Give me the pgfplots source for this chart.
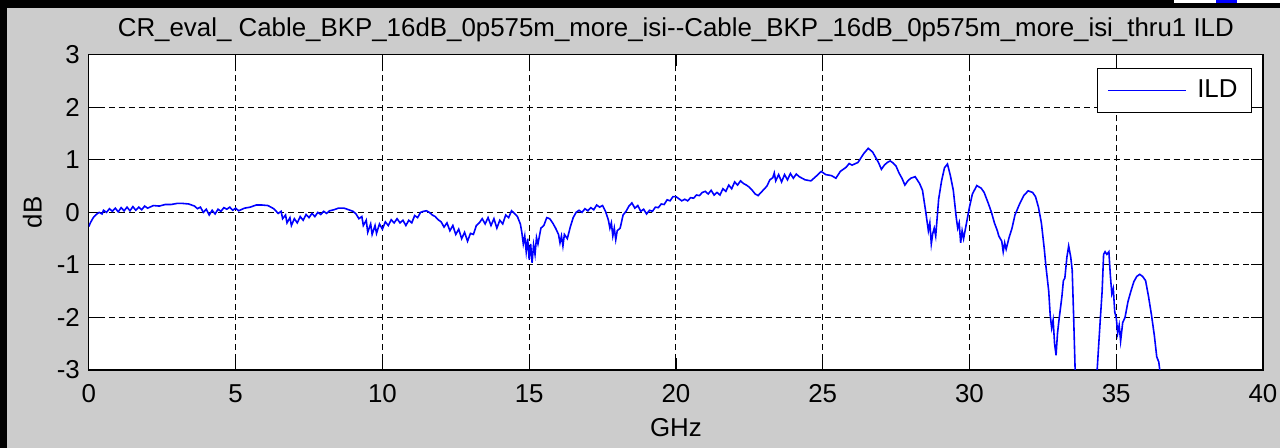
\documentclass[border=0pt]{standalone}
\usepackage{pgfplots}
\pgfplotsset{compat=1.18}
\usepackage{fontspec}
\setmainfont{Liberation Sans}
\definecolor{figgray}{RGB}{204,204,204}
\begin{document}
\fontsize{13pt}{15pt}\selectfont
\begin{tikzpicture}
\fill[figgray] (0,0) rectangle (643pt,225pt);
\fill[black] (0,221pt) rectangle (643pt,225pt);
\fill[black] (0,0) rectangle (3.5pt,225pt);
\fill[white] (590pt,223.5pt) rectangle (643pt,225pt);
\fill[blue] (611pt,223.5pt) rectangle (621.5pt,225pt);
\begin{axis}[
 at={(44.65pt,39.15pt)}, anchor=south west,
 scale only axis, width=589.9pt, height=158.3pt,
 xmin=0, xmax=40, ymin=-3, ymax=3,
 xtick={0,5,...,40}, ytick={-3,-2,...,3},
 grid=major,
 grid style={black, line width=0.5pt, dash pattern=on 3pt off 2pt},
 axis line style={line width=0.6pt},
 tick style={black, line width=0.6pt},
 major tick length=5.8pt,
 tick align=inside,
 axis background/.style={fill=white},
 /pgf/number format/assume math mode=true,
 ticklabel style={font=\fontsize{13pt}{15pt}\selectfont},
 xticklabel style={yshift=-3pt},
 every axis title shift=0pt,
 title={CR\_eval\_ Cable\_BKP\_16dB\_0p575m\_more\_isi-{}-Cable\_BKP\_16dB\_0p575m\_more\_isi\_thru1 ILD},
 title style={at={(0.5,1.0568)}, anchor=base, font=\fontsize{13pt}{15pt}\selectfont, inner sep=0pt, yshift=0pt},
 xlabel={GHz},
 xlabel style={at={(0.5,-0.2125)}, anchor=base, inner sep=0pt, font=\fontsize{13pt}{15pt}\selectfont},
 ylabel={dB},
 ylabel style={at={(-0.0403,0.5)}, anchor=base, inner sep=0pt, font=\fontsize{13pt}{15pt}\selectfont},
 legend style={at={(0.9907,0.958)}, anchor=north east, draw=black, line width=0.6pt, fill=white,
   inner xsep=5pt, inner ysep=3.5pt, font=\fontsize{13pt}{15pt}\selectfont,
   /tikz/every odd column/.append style={column sep=3.5pt}},
 legend image code/.code={\draw[#1, line width=0.8pt] (1.5pt,0pt) -- (40.5pt,0pt);},
]
\addplot[blue, line width=0.8pt] coordinates {
(0,-0.27)(0.05,-0.2)(0.15,-0.1)(0.25,-0.04)(0.35,0.0)
(0.45,-0.03)(0.5,0.04)(0.6,0.0)(0.7,0.07)(0.8,0.02)(0.9,0.08)(1.0,0.01)(1.1,0.09)(1.2,0.03)(1.3,0.1)(1.4,0.03)(1.5,0.11)(1.6,0.04)(1.7,0.1)(1.8,0.05)(1.9,0.12)(2.0,0.08)(2.2,0.13)(2.4,0.12)(2.6,0.15)(2.8,0.15)(3.0,0.17)(3.2,0.17)(3.4,0.16)(3.6,0.12)(3.7,0.07)(3.8,0.1)(3.9,0.0)(4.0,0.06)(4.1,-0.05)(4.2,0.04)(4.3,-0.03)(4.4,0.06)(4.5,0.02)(4.6,0.09)(4.7,0.06)(4.8,0.1)(4.9,0.04)(5.0,0.08)(5.1,0.03)(5.3,0.08)(5.5,0.1)(5.7,0.14)(5.9,0.14)(6.1,0.13)(6.3,0.07)(6.45,-0.02)(6.55,0.02)(6.6,-0.12)(6.7,-0.05)(6.75,-0.2)(6.85,-0.1)(6.9,-0.25)(7.0,-0.12)(7.1,-0.2)(7.2,-0.08)(7.3,-0.15)(7.4,-0.04)(7.5,-0.1)(7.6,-0.02)(7.7,-0.08)(7.8,0.0)(7.9,-0.04)(8.0,0.02)(8.1,-0.02)(8.2,0.03)(8.35,0.05)(8.5,0.08)(8.7,0.08)(8.85,0.05)(9.0,0.02)(9.1,-0.03)(9.2,-0.12)(9.3,-0.08)(9.35,-0.25)(9.45,-0.15)(9.5,-0.38)(9.6,-0.22)(9.65,-0.42)(9.75,-0.25)(9.8,-0.4)(9.9,-0.22)(10.0,-0.32)(10.1,-0.18)(10.2,-0.25)(10.3,-0.14)(10.4,-0.2)(10.5,-0.12)(10.6,-0.2)(10.7,-0.15)(10.8,-0.25)(10.9,-0.15)(11.0,-0.2)(11.1,-0.06)(11.2,-0.1)(11.3,0.0)(11.4,0.02)(11.5,0.03)(11.6,0.0)(11.7,-0.05)(11.8,-0.08)(11.9,-0.14)(12.0,-0.18)(12.1,-0.28)(12.2,-0.2)(12.3,-0.35)(12.4,-0.25)(12.5,-0.42)(12.6,-0.32)(12.7,-0.5)(12.8,-0.38)(12.9,-0.55)(13.0,-0.4)(13.1,-0.42)(13.2,-0.25)(13.3,-0.2)(13.4,-0.12)(13.5,-0.22)(13.6,-0.1)(13.7,-0.25)(13.8,-0.12)(13.9,-0.3)(14.0,-0.15)(14.1,-0.22)(14.2,-0.05)(14.3,-0.1)(14.4,0.03)(14.5,-0.02)(14.6,-0.08)(14.7,-0.22)(14.75,-0.38)(14.8,-0.6)(14.85,-0.45)(14.9,-0.75)(14.95,-0.5)(15.0,-0.9)(15.05,-0.6)(15.1,-0.96)(15.15,-0.62)(15.2,-0.8)(15.25,-0.48)(15.3,-0.6)(15.4,-0.3)(15.5,-0.25)(15.6,-0.1)(15.7,-0.12)(15.8,-0.2)(15.9,-0.3)(16.0,-0.42)(16.05,-0.58)(16.1,-0.45)(16.15,-0.64)(16.2,-0.42)(16.3,-0.5)(16.4,-0.28)(16.5,-0.1)(16.6,0.0)(16.7,0.04)(16.8,0.0)(16.9,0.07)(17.0,0.03)(17.1,0.09)(17.2,0.05)(17.3,0.14)(17.4,0.1)(17.5,0.13)(17.6,0.02)(17.7,-0.15)(17.75,-0.3)(17.8,-0.2)(17.85,-0.45)(17.9,-0.3)(17.95,-0.52)(18.0,-0.35)(18.1,-0.3)(18.2,-0.05)(18.3,0.02)(18.4,0.12)(18.5,0.18)(18.6,0.08)(18.7,0.13)(18.8,0.02)(18.9,0.06)(19.0,-0.03)(19.1,0.04)(19.2,0.02)(19.3,0.1)(19.4,0.09)(19.5,0.16)(19.6,0.15)(19.7,0.24)(19.8,0.22)(19.9,0.3)(20.0,0.3)(20.1,0.26)(20.2,0.22)(20.3,0.25)(20.4,0.22)(20.5,0.28)(20.6,0.27)(20.7,0.33)(20.8,0.32)(20.9,0.38)(21.0,0.4)(21.1,0.35)(21.2,0.42)(21.3,0.33)(21.4,0.38)(21.5,0.33)(21.6,0.45)(21.7,0.4)(21.8,0.52)(21.9,0.45)(22.0,0.58)(22.1,0.52)(22.2,0.6)(22.3,0.55)(22.4,0.52)(22.5,0.48)(22.6,0.42)(22.7,0.35)(22.8,0.32)(22.9,0.38)(23.0,0.44)(23.1,0.5)(23.2,0.62)(23.3,0.66)(23.35,0.75)(23.4,0.6)(23.5,0.72)(23.6,0.58)(23.7,0.72)(23.8,0.62)(23.9,0.74)(24.0,0.65)(24.1,0.73)(24.2,0.68)(24.4,0.62)(24.6,0.6)(24.8,0.7)(24.95,0.78)(25.1,0.72)(25.3,0.7)(25.45,0.65)(25.6,0.78)(25.8,0.86)(25.9,0.93)(26.0,0.9)(26.2,0.95)(26.4,1.12)(26.55,1.22)(26.7,1.15)(26.8,1.05)(26.9,0.95)(27.0,0.82)(27.1,0.9)(27.2,0.95)(27.3,0.98)(27.4,0.94)(27.5,0.88)(27.6,0.75)(27.7,0.65)(27.8,0.52)(27.9,0.6)(28.0,0.65)(28.15,0.68)(28.3,0.55)(28.4,0.42)(28.5,0.05)(28.55,-0.15)(28.6,-0.35)(28.65,-0.2)(28.7,-0.6)(28.75,-0.4)(28.8,-0.3)(28.85,-0.45)(28.9,-0.1)(28.95,0.25)(29.05,0.6)(29.15,0.85)(29.25,0.92)(29.35,0.7)(29.45,0.42)(29.55,-0.1)(29.6,-0.3)(29.65,-0.2)(29.7,-0.58)(29.75,-0.35)(29.8,-0.5)(29.9,-0.2)(30.0,0.1)(30.1,0.35)(30.25,0.51)(30.4,0.46)(30.5,0.38)(30.65,0.16)(30.75,0.0)(30.85,-0.2)(30.95,-0.35)(31.0,-0.45)(31.1,-0.55)(31.15,-0.75)(31.2,-0.58)(31.25,-0.7)(31.35,-0.48)(31.45,-0.3)(31.55,-0.05)(31.7,0.15)(31.85,0.32)(32.0,0.41)(32.15,0.38)(32.25,0.3)(32.35,0.1)(32.45,-0.2)(32.55,-0.7)(32.6,-1.0)(32.7,-1.5)(32.75,-1.95)(32.8,-2.2)(32.85,-2.05)(32.9,-2.5)(32.95,-2.72)(33.0,-2.3)(33.05,-2.05)(33.15,-1.6)(33.2,-1.3)(33.25,-1.25)(33.32,-0.85)(33.38,-0.64)(33.45,-0.85)(33.5,-1.1)(33.55,-2.0)(33.6,-3.0)(33.65,-3.8)(34.3,-3.8)(34.35,-3.0)(34.45,-2.1)(34.52,-1.5)(34.57,-0.8)(34.62,-0.75)(34.68,-0.8)(34.75,-0.75)(34.8,-1.2)(34.85,-1.55)(34.9,-1.45)(34.95,-1.9)(35.0,-2.0)(35.05,-2.3)(35.1,-2.15)(35.15,-2.45)(35.22,-2.1)(35.3,-2.0)(35.4,-1.7)(35.5,-1.5)(35.6,-1.32)(35.7,-1.22)(35.8,-1.18)(35.9,-1.22)(36.0,-1.3)(36.1,-1.6)(36.2,-1.95)(36.3,-2.35)(36.38,-2.75)(36.45,-2.85)(36.55,-3.3)(36.6,-4)
};
\addlegendentry{ILD}
\end{axis}
\end{tikzpicture}
\end{document}
